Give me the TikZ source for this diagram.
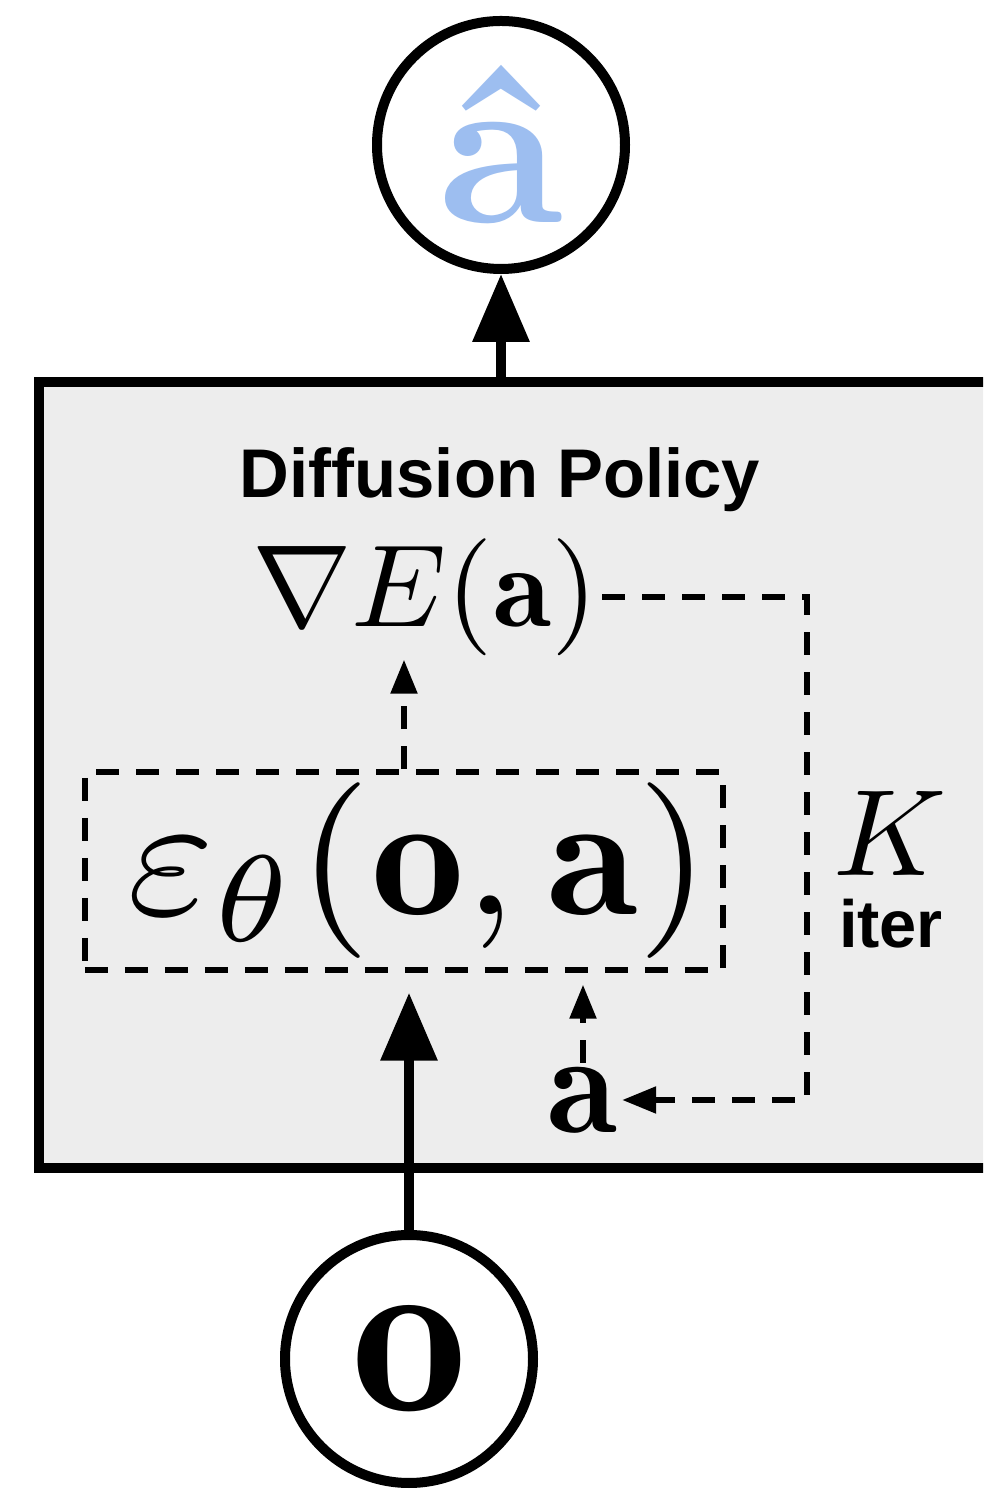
\documentclass[tikz,border=0pt]{standalone}
\usepackage{amsmath,amssymb}
\usepackage{graphicx}
\usepackage{fontspec}
\setsansfont{Liberation Sans}
\usetikzlibrary{arrows.meta}
\definecolor{dpgray}{HTML}{EDEDED}
\definecolor{dpblue}{HTML}{9DBEF0}

\tikzset{
  thickline/.style={line width=0.1cm},
  dashline/.style={line width=0.055cm, dash pattern=on 0.23cm off 0.17cm},
  bigarrow/.style={thickline, -{Triangle[length=0.68cm,width=0.55cm]}},
  smallarrow/.style={dashline, -{Triangle[length=0.34cm,width=0.26cm]}},
  varcircle/.style={circle, draw, thickline, fill=white, inner sep=0pt, minimum size=2.48cm},
  mathlabel/.style={inner sep=1pt},
}

\begin{document}
\begin{tikzpicture}
\useasboundingbox (0,0) rectangle (9.83,14.92);
\clip (0,0) rectangle (9.83,14.92);
% policy block
\node[draw, thickline, fill=dpgray, minimum width=10.11cm, minimum height=7.86cm, inner sep=0pt] (policy) at (5.445,7.17) {};
\node[anchor=base, font=\fontsize{19.6}{22}\selectfont\sffamily\bfseries] (title) at (5.0,9.94) {Diffusion Policy};
\node[mathlabel] (grad) at (4.25,8.95) {\scalebox{3.4}[3.33]{$\nabla E(\mathbf{a})$}};
\node[draw, dashline, minimum width=6.38cm, minimum height=1.98cm, inner sep=0pt] (eps) at (4.04,6.21) {\hspace{0.3cm}\scalebox{5.3}[5.0]{$\varepsilon_\theta(\mathbf{o},\mathbf{a})$}};
\node[mathlabel] (act) at (5.83,3.92) {\scalebox{4.1}{$\mathbf{a}$}};
\node[anchor=base, inner sep=0pt] (iters) at (8.90,6.16) {\scalebox{3.5}{$K$}};
\node[anchor=base, inner sep=0pt, font=\fontsize{19}{21}\selectfont\sffamily\bfseries] (iterlbl) at (8.91,5.44) {iter};
\coordinate (turn) at (8.07,6.0);
% input and output
\node[varcircle] (ahat) at (5.01,13.47) {\color{dpblue}\scalebox{6.3}{\bfseries â}};
\node[varcircle] (obs) at (4.09,1.33) {\scalebox{6.6}{$\mathbf{o}$}};
% connectors
\draw[bigarrow] (ahat |- policy.north) -- (ahat.south);
\draw[bigarrow, shorten >=0.2cm] (obs.north) -- (obs |- eps.south);
\draw[smallarrow] (eps.north) -- (eps.north |- grad.south);
\draw[smallarrow, shorten >=0.12cm] (act.north) -- (act.north |- eps.south);
\draw[smallarrow] (grad.east) -| (turn) |- (act.east);
\end{tikzpicture}
\end{document}
